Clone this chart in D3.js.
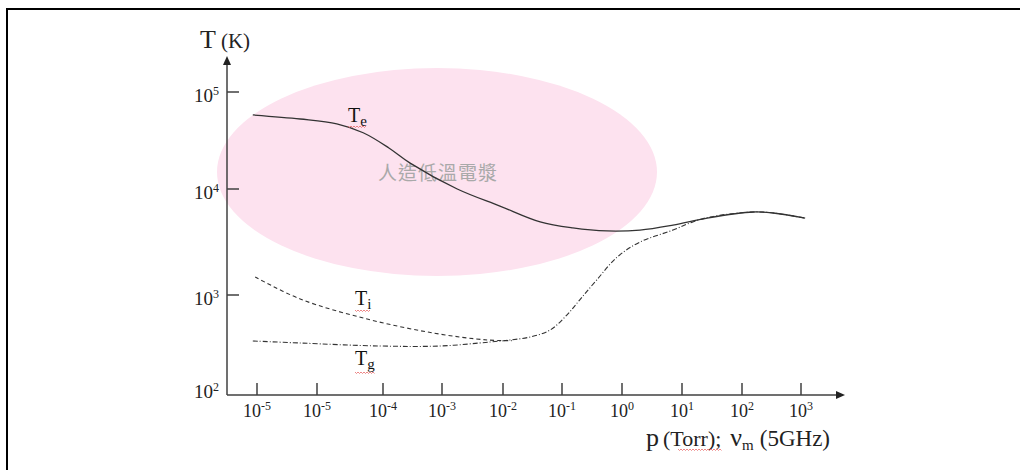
<!DOCTYPE html>
<html><head><meta charset="utf-8">
<script src="https://cdn.jsdelivr.net/npm/d3@7"></script>
<style>body{margin:0;background:#fff}</style>
</head><body><svg id="c" width="1020" height="470"></svg>
<script>
// ---- data ----
const xTickExp = [-6, -5, -4, -3, -2, -1, 0, 1, 2, 3];
const xTickSup = ["-5", "-5", "-4", "-3", "-2", "-1", "0", "1", "2", "3"];
const yTickVal = [1e2, 1e3, 1e4, 1e5];
const yTickSup = ["2", "3", "4", "5"];

const teLogP = [-6.07, -5.28, -4.7, -4.3, -3.9, -3.54, -2.75, -2.05, -1.37, -0.82, -0.25, 0.3, 0.85, 1.42, 2.19, 2.53, 3.07];
const teT    = [58000, 52700, 47000, 38000, 26500, 18500, 10000, 6900, 4890, 4290, 4020, 4100, 4570, 5320, 6070, 5940, 5320];

const tiLogP = [-6.03, -5.28, -4.24, -3.15, -2.26, -1.85];
const tiT    = [1480, 912, 575, 417, 355, 350];

const tgLogP = [-6.07, -5.28, -4.05, -3.03, -2.21, -1.88, -1.54, -1.2, -0.92, -0.7, -0.42, -0.08, 0.3, 0.85, 1.18, 1.47, 2.19, 2.53, 3.07];
const tgT    = [347, 331, 309, 309, 339, 355, 380, 447, 630, 900, 1390, 2280, 3160, 4100, 4890, 5450, 6070, 5940, 5320];

const regionLabel = "人造低溫電漿";

// ---- drawing ----
const svg = d3.select("#c");
const serif = "'Liberation Serif','DejaVu Serif',serif";
const axisColor = "#404040";

// frame
svg.append("path").attr("d", "M7,470V9H1020").attr("fill", "none")
  .attr("stroke", "#000").attr("stroke-width", 2);

const x = d3.scaleLinear().domain(xTickExp)
  .range([257, 317, 383, 442, 503, 562, 622, 682, 742, 801]);
const y = d3.scaleLog().domain(yTickVal).range([395, 295, 189, 92]);
const x0 = 227, y0 = 395;

// pink region
svg.append("ellipse").attr("cx", 437).attr("cy", 172).attr("rx", 220).attr("ry", 104)
  .attr("fill", "#fde2ef");
svg.append("text").attr("x", 438).attr("y", 180).attr("text-anchor", "middle")
  .attr("font-family", "'Noto Sans CJK TC','Noto Sans CJK SC',sans-serif")
  .attr("font-size", 19).attr("fill", "#a9a9a9").attr("letter-spacing", 1)
  .text(regionLabel);

// axes
const g = svg.append("g").attr("stroke", axisColor).attr("stroke-width", 1.5);
g.append("line").attr("x1", x0).attr("y1", y0).attr("x2", x0).attr("y2", 62);
g.append("line").attr("x1", x0).attr("y1", y0).attr("x2", 838).attr("y2", y0);
svg.append("path").attr("d", `M${x0},56L${x0 - 4},65L${x0 + 4},65Z`).attr("fill", "#222");
svg.append("path").attr("d", `M845,${y0}L836,${y0 - 4}L836,${y0 + 4}Z`).attr("fill", "#222");

// x ticks
xTickExp.forEach((e, i) => {
  const px = x(e);
  g.append("line").attr("x1", px).attr("x2", px).attr("y1", y0).attr("y2", y0 - 12);
  const t = svg.append("text").attr("x", px).attr("y", y0 + 22).attr("text-anchor", "middle")
    .attr("font-family", serif).attr("font-size", 18).attr("fill", "#222");
  t.append("tspan").text("10");
  t.append("tspan").attr("dy", -7).attr("font-size", 12).text(xTickSup[i]);
});

// y ticks
yTickVal.forEach((v, i) => {
  const py = y(v);
  if (i > 0) g.append("line").attr("x1", x0).attr("x2", x0 + 12).attr("y1", py).attr("y2", py);
  const off = i === 0 ? 3 : 10;
  const t = svg.append("text").attr("x", 219).attr("y", py + off).attr("text-anchor", "end")
    .attr("font-family", serif).attr("font-size", 19).attr("fill", "#222");
  t.append("tspan").text("10");
  t.append("tspan").attr("dy", -7).attr("font-size", 12).text(yTickSup[i]);
});

// axis titles
const yt = svg.append("text").attr("x", 200).attr("y", 48).attr("font-family", serif).attr("fill", "#222");
yt.append("tspan").attr("font-size", 26).text("T");
yt.append("tspan").attr("font-size", 21).attr("dx", 5).text("(K)");

const xt = svg.append("text").attr("x", 646).attr("y", 446).attr("font-family", serif).attr("fill", "#222");
xt.append("tspan").attr("font-size", 26).text("p");
xt.append("tspan").attr("font-size", 22).attr("dx", 4).text("(Torr);");
xt.append("tspan").attr("font-size", 26).attr("dx", 9).text("ν");
xt.append("tspan").attr("font-size", 15).attr("dy", 4).text("m");
xt.append("tspan").attr("font-size", 23).attr("dy", -4).attr("dx", 6).text("(5GHz)");

// curves
const line = d3.line().x(d => x(d[0])).y(d => y(d[1])).curve(d3.curveCatmullRom.alpha(0.5));
function series(lp, tv, dash, w) {
  svg.append("path").datum(lp.map((p, i) => [p, tv[i]])).attr("d", line)
    .attr("fill", "none").attr("stroke", "#333").attr("stroke-width", w)
    .attr("stroke-dasharray", dash);
}
series(tgLogP, tgT, "5,2,1,2", 1.1);
series(tiLogP, tiT, "4,3", 1.1);
series(teLogP, teT, null, 1.3);

// curve labels
function lab(px, py, sub) {
  const t = svg.append("text").attr("x", px).attr("y", py).attr("font-family", serif).attr("fill", "#111");
  t.append("tspan").attr("font-size", 20).text("T");
  t.append("tspan").attr("font-size", 15).attr("dy", 4).text(sub);
}
lab(348, 122, "e");
lab(355, 305, "i");
lab(355, 365, "g");

// spell-check squiggles
function squiggle(x1, x2, yy) {
  let d = `M${x1},${yy}`;
  for (let xx = x1 + 1.5, k = 0; xx <= x2; xx += 1.5, k++) d += `L${xx},${yy + (k % 2 ? 0 : 1.5)}`;
  svg.append("path").attr("d", d).attr("fill", "none").attr("stroke", "#e86a6a").attr("stroke-width", 0.8);
}
squiggle(348, 366, 126);
squiggle(355, 371, 310);
squiggle(355, 375, 372);
squiggle(678, 722, 449);
</script></body></html>
